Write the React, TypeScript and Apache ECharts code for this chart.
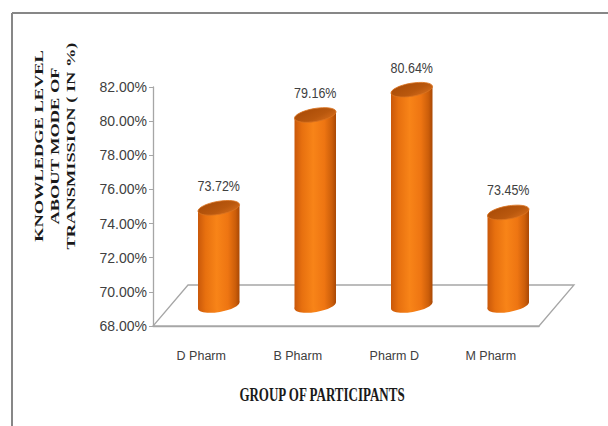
import React, { useEffect, useRef } from "react";
import * as echarts from "echarts";

const CATEGORIES = ["D Pharm", "B Pharm", "Pharm D", "M Pharm"];
const VALUES = [73.72, 79.16, 80.64, 73.45];
const Y_MIN = 68;
const Y_MAX = 82;
const Y_STEP = 2;
const Y_TITLE_LINES = ["KNOWLEDGE LEVEL", "ABOUT MODE OF", "TRANSMISSION ( IN %)"];
const X_TITLE = "GROUP OF PARTICIPANTS";

const DEPTH_X = 35;
const DEPTH_Y = 41;
const SANS = "'Liberation Sans', Arial, sans-serif";
const SERIF = "'Liberation Serif', 'DejaVu Serif', serif";

export default function App() {
  const ref = useRef<HTMLDivElement>(null);
  useEffect(() => {
    if (!ref.current) return;
    const chart = echarts.init(ref.current, null, { renderer: "svg" });
    const theta = 0.17;
    const ry = 6.5;

    const cylinder = (params: any, api: any) => {
      const cat = api.value(0);
      const v = api.value(1);
      const top = api.coord([cat, v]);
      const base = api.coord([cat, Y_MIN]);
      const bw = api.size([1, 0])[0];
      const half = (bw * 0.43) / 2;
      const cx = top[0] + DEPTH_X / 2;
      const ty = top[1] - DEPTH_Y / 2;
      const by = base[1] - DEPTH_Y / 2;
      const s = Math.sin(theta), c = Math.cos(theta);
      const rx = Math.sqrt((half * half - ry * ry * s * s) / (c * c));
      const yOff = ((rx * rx - ry * ry) * s * c) / half;
      const bodyGrad = new echarts.graphic.LinearGradient(0, 0, 1, 0, [
        { offset: 0, color: "#c9580a" },
        { offset: 0.18, color: "#e7700f" },
        { offset: 0.45, color: "#f88418" },
        { offset: 0.72, color: "#ee7512" },
        { offset: 0.9, color: "#cc5e0a" },
        { offset: 1, color: "#a94805" },
      ]);
      const topGrad = new echarts.graphic.LinearGradient(0, 0, 1, 1, [
        { offset: 0, color: "#a84a06" },
        { offset: 0.6, color: "#b9580e" },
        { offset: 1, color: "#d86e1c" },
      ]);
      return {
        type: "group",
        children: [
          {
            type: "ellipse",
            shape: { cx: 0, cy: 0, rx, ry },
            x: cx,
            y: by,
            rotation: theta,
            style: { fill: bodyGrad },
          },
          {
            type: "polygon",
            shape: {
              points: [
                [cx - half, ty + yOff],
                [cx + half, ty - yOff],
                [cx + half, by - yOff],
                [cx - half, by + yOff],
              ],
            },
            style: { fill: bodyGrad },
          },
          {
            type: "ellipse",
            shape: { cx: 0, cy: 0, rx, ry },
            x: cx,
            y: ty,
            rotation: theta,
            style: { fill: topGrad, stroke: "#d9731f", lineWidth: 0.8 },
          },
          {
            type: "text",
            x: cx,
            y: ty - 22,
            scaleY: 1.15,
            style: {
              text: v.toFixed(2) + "%",
              align: "center",
              verticalAlign: "middle",
              font: "12.5px " + SANS,
              fill: "#404040",
            },
          },
        ],
      };
    };

    const floor = (params: any, api: any) => {
      const bw = api.size([1, 0])[0];
      const first = api.coord([0, Y_MIN]);
      const last = api.coord([CATEGORIES.length - 1, Y_MIN]);
      const l = first[0] - bw / 2;
      const r = last[0] + bw / 2;
      const y = first[1];
      return {
        type: "polygon",
        shape: {
          points: [
            [l, y],
            [r, y],
            [r + DEPTH_X, y - DEPTH_Y],
            [l + DEPTH_X, y - DEPTH_Y],
          ],
        },
        style: { fill: "#ffffff", stroke: "#a6a6a6", lineWidth: 1.3 },
      };
    };

    const titleGraphics = Y_TITLE_LINES.map((t, i) => ({
      type: "text",
      x: 39 + i * 16,
      y: 146,
      rotation: Math.PI / 2,
      scaleX: 1.6,
      style: {
        text: t,
        align: "center",
        verticalAlign: "middle",
        font: "bold 11.5px " + SERIF,
        fill: "#1a1a1a",
      },
    }));

    chart.setOption({
      animation: false,
      grid: { left: 153, right: 69, top: 87, bottom: 100 },
      xAxis: {
        type: "category",
        data: CATEGORIES,
        axisLine: { lineStyle: { color: "#a6a6a6", width: 1.3 } },
        axisTick: { length: 5, lineStyle: { color: "#a6a6a6" } },
        axisLabel: { margin: 23, fontSize: 12.5, fontFamily: SANS, color: "#404040" },
      },
      yAxis: {
        type: "value",
        min: Y_MIN,
        max: Y_MAX,
        interval: Y_STEP,
        axisLine: { show: true, lineStyle: { color: "#a6a6a6", width: 1.3 } },
        axisTick: { show: true, length: 4, lineStyle: { color: "#a6a6a6" } },
        splitLine: { show: false },
        axisLabel: {
          margin: 6,
          fontSize: 14,
          fontFamily: SANS,
          color: "#404040",
          formatter: (v: number) => v.toFixed(2) + "%",
        },
      },
      series: [
        {
          type: "custom",
          renderItem: floor,
          data: [[0, Y_MIN]],
          z: 1,
          silent: true,
        },
        {
          type: "custom",
          renderItem: cylinder,
          data: VALUES.map((v, i) => [i, v]),
          encode: { x: 0, y: 1 },
          z: 3,
        },
      ],
      graphic: [
        { type: "line", shape: { x1: 12, y1: 13, x2: 608, y2: 13 }, style: { stroke: "#878787", lineWidth: 2 } },
        { type: "line", shape: { x1: 12, y1: 13, x2: 12, y2: 426 }, style: { stroke: "#878787", lineWidth: 2 } },
        ...titleGraphics,
        {
          type: "text",
          x: 322,
          y: 395,
          scaleY: 1.4,
          style: {
            text: X_TITLE,
            align: "center",
            verticalAlign: "middle",
            font: "bold 13px " + SERIF,
            fill: "#1a1a1a",
          },
        },
      ],
    });
    return () => chart.dispose();
  }, []);
  return <div ref={ref} style={{ position: "fixed", left: 0, top: 0, width: 608, height: 426, background: "#fff" }} />;
}
